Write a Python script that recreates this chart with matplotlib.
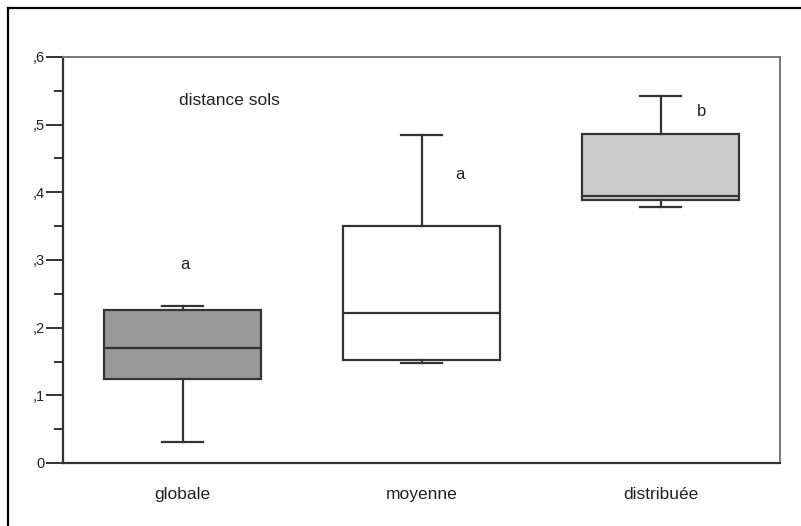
import matplotlib
matplotlib.use("Agg")
import matplotlib.pyplot as plt
from matplotlib.lines import Line2D
from matplotlib.ticker import MultipleLocator, FuncFormatter

plt.rcParams['font.family'] = ['Liberation Sans', 'DejaVu Sans']

# Groups and their box-plot summaries
categories = ["globale", "moyenne", "distribuée"]
whisker_low = [0.031, 0.148, 0.379]
q1 = [0.124, 0.152, 0.389]
median = [0.170, 0.221, 0.395]
q3 = [0.226, 0.350, 0.486]
whisker_high = [0.232, 0.485, 0.542]
fills = ["#999999", "#ffffff", "#cccccc"]

# Significance letters and their heights
letters = ["a", "a", "b"]
letter_y = [0.294, 0.427, 0.52]
letter_dx = [0.01, 0.16, 0.17]

fig = plt.figure(figsize=(8.01, 5.26), dpi=100)
ax = fig.add_axes([63 / 801, 63 / 526, 717 / 801, 406 / 526])

stats = []
for i, name in enumerate(categories):
    stats.append(dict(label=name, whislo=whisker_low[i], q1=q1[i], med=median[i],
                      q3=q3[i], whishi=whisker_high[i], fliers=[]))

edge = "#333333"
bp = ax.bxp(stats, positions=[1, 2, 3], widths=0.66, patch_artist=True,
            showfliers=False, capwidths=0.17,
            boxprops=dict(edgecolor=edge, linewidth=1.6),
            medianprops=dict(color=edge, linewidth=1.6),
            whiskerprops=dict(color=edge, linewidth=1.6),
            capprops=dict(color=edge, linewidth=1.6))
for patch, c in zip(bp['boxes'], fills):
    patch.set_facecolor(c)

for i, (t, y) in enumerate(zip(letters, letter_y)):
    ax.text(i + 1 + letter_dx[i], y, t, ha='center', va='center', fontsize=12,
            color="#222222")

ax.text(1.195, 0.535, "distance sols", ha='center', va='center', fontsize=12.5,
        color="#222222")

ax.set_xlim(0.5, 3.5)
ax.set_ylim(0, 0.6)
ax.yaxis.set_major_locator(MultipleLocator(0.1))
ax.yaxis.set_minor_locator(MultipleLocator(0.05))
ax.yaxis.set_major_formatter(FuncFormatter(
    lambda v, p: "0" if abs(v) < 1e-9 else ("%.1f" % v).replace("0.", ",")))
ax.tick_params(axis='y', which='major', length=12, width=1.4, color=edge,
               labelsize=10.5, pad=1, labelcolor="#222222")
ax.tick_params(axis='y', which='minor', length=6.5, width=1.4, color=edge)
ax.tick_params(axis='x', length=0, labelsize=12.5, pad=17, labelcolor="#222222")
ax.set_xticks([1, 2, 3])
ax.set_xticklabels(categories)

for side in ['left', 'bottom']:
    ax.spines[side].set_linewidth(1.6)
    ax.spines[side].set_color(edge)
for side in ['right', 'top']:
    ax.spines[side].set_linewidth(1.4)
    ax.spines[side].set_color("#777777")

# Outer frame (left and top edges)
fig.add_artist(Line2D([7.5 / 801, 7.5 / 801], [0, 1 - 8 / 526], color='black',
                      linewidth=1.6, transform=fig.transFigure))
fig.add_artist(Line2D([7.5 / 801, 1], [1 - 8 / 526, 1 - 8 / 526], color='black',
                      linewidth=1.6, transform=fig.transFigure))

fig.savefig("out.png", dpi=100)
